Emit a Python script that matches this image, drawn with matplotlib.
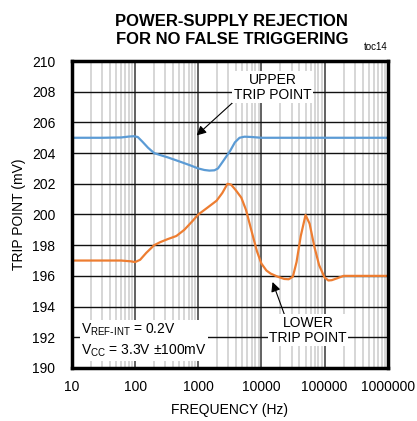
import numpy as np
import matplotlib.pyplot as plt
from matplotlib.ticker import LogLocator, FixedLocator, NullFormatter

plt.rcParams['font.family'] = ['Liberation Sans', 'DejaVu Sans']

# upper trip point (frequency Hz, mV)
upper_f = [10, 30, 60, 80, 95, 110, 130, 160, 200, 260, 330, 400, 550, 750,
           1000, 1250, 1500, 1800, 2050, 2400, 2800, 3200, 3800, 4500, 5400,
           7000, 10000, 100000, 1000000]
upper_v = [205.0, 205.0, 205.02, 205.08, 205.1, 205.05, 204.75, 204.35, 204.0,
           203.85, 203.72, 203.6, 203.4, 203.2, 203.0, 202.9, 202.86, 202.88,
           203.0, 203.4, 203.8, 204.15, 204.7, 205.0, 205.07, 205.05, 205.0,
           205.0, 205.0]

# lower trip point
lower_f = [10, 30, 60, 85, 100, 120, 150, 200, 250, 330, 450, 600, 800,
           1000, 1400, 1950, 2400, 2900, 3300, 3900, 4800, 5700, 7000, 8500,
           10000, 12000, 14000, 18000, 23000, 27000, 31500, 36000, 42000,
           50000, 58000, 69000, 82000, 100000, 115000, 130000, 160000,
           200000, 300000, 1000000]
lower_v = [197.0, 197.0, 197.0, 196.95, 196.9, 197.05, 197.5, 198.0, 198.2,
           198.4, 198.6, 199.0, 199.55, 200.0, 200.45, 200.9, 201.4, 202.0,
           201.95, 201.6, 201.1, 200.3, 198.9, 197.6, 196.8, 196.35, 196.15,
           195.95, 195.8, 195.78, 195.95, 196.9, 198.6, 199.97, 199.4, 197.9,
           196.7, 195.9, 195.7, 195.72, 195.85, 196.0, 196.0, 196.0]

fig = plt.figure(figsize=(4.17, 4.21), dpi=100)
ax = fig.add_axes([0.1727, 0.126, 0.757, 0.729])

ax.set_xscale('log')
ax.set_xlim(10, 1000000)
ax.set_ylim(190, 210)

ax.xaxis.set_major_locator(FixedLocator([10, 100, 1000, 10000, 100000, 1000000]))
ax.xaxis.set_minor_locator(LogLocator(base=10, subs=np.arange(2, 10), numticks=20))
ax.xaxis.set_minor_formatter(NullFormatter())
ax.set_xticklabels(['10', '100', '1000', '10000', '100000', '1000000'])
ax.set_yticks(np.arange(190, 211, 2))

ax.grid(which='minor', axis='x', color='#d3d3d3', linewidth=1.3)
ax.grid(which='major', axis='x', color='#555555', linewidth=1.3)
ax.grid(which='major', axis='y', color='#111111', linewidth=1.0)
ax.set_axisbelow(True)
ax.tick_params(which='both', length=0, labelsize=10, pad=9)
ax.tick_params(axis='y', pad=12)

for s in ax.spines.values():
    s.set_linewidth(2.5)

ax.plot(upper_f, upper_v, color='#5b9bd5', linewidth=1.6)
ax.plot(lower_f, lower_v, color='#ed7d31', linewidth=1.6)

ax.set_xlabel('FREQUENCY (Hz)', fontsize=10, labelpad=6)
ax.set_ylabel('TRIP POINT (mV)', fontsize=10, labelpad=4)

fig.text(0.556, 0.927, 'POWER-SUPPLY REJECTION\nFOR NO FALSE TRIGGERING',
         ha='center', va='center', fontsize=12, fontweight='bold', linespacing=1.25)
fig.text(0.93, 0.877, 'toc14', ha='right', va='bottom', fontsize=7)

bbox = dict(facecolor='white', edgecolor='none', pad=1)
ax.annotate('UPPER\nTRIP POINT', xy=(940, 205.15), xytext=(15000, 208.3),
            ha='center', va='center', fontsize=10, linespacing=1.1, bbox=bbox,
            arrowprops=dict(arrowstyle='-|>', color='black', lw=0.8,
                            mutation_scale=14, shrinkA=0, shrinkB=0,
                            relpos=(0.0, 0.0)))
ax.annotate('LOWER\nTRIP POINT', xy=(15000, 195.6), xytext=(55000, 192.45),
            ha='center', va='center', fontsize=10, linespacing=1.1, bbox=bbox,
            arrowprops=dict(arrowstyle='-|>', color='black', lw=0.8,
                            mutation_scale=14, shrinkA=0, shrinkB=0,
                            relpos=(0.2, 1.0)))
ax.text(14, 191.8, '$\\mathregular{V_{REF\\text{-}INT}}$ = 0.2V\n$\\mathregular{V_{CC}}$ = 3.3V ±100mV',
        ha='left', va='center', fontsize=10, linespacing=1.4, bbox=bbox)

fig.savefig('out.png', dpi=100)
